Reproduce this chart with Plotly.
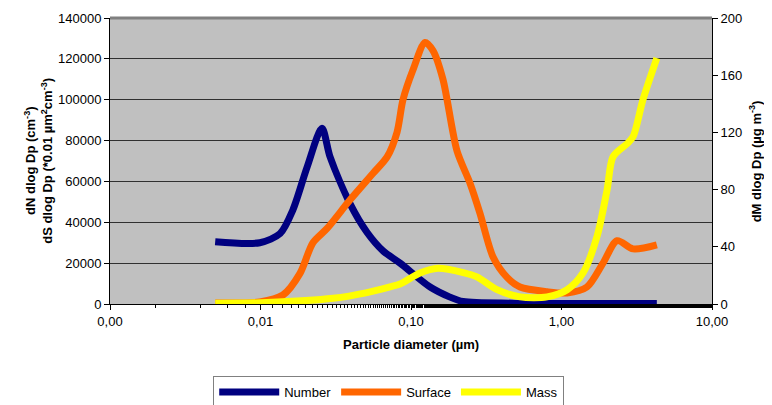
import plotly.graph_objects as go

# Particle diameter (µm) for each series
num_d = [0.005, 0.0099, 0.0135, 0.0164, 0.0204, 0.0256, 0.029, 0.0394, 0.0511, 0.0652, 0.0846, 0.134, 0.18, 0.222, 0.476, 1.0, 4.3]
num_v = [30500, 30000, 34500, 46000, 67000, 86000, 72000, 49000, 35000, 26000, 20000, 8300, 3500, 1200, 400, 250, 200]

surf_d = [0.005, 0.0099, 0.0141, 0.0183, 0.0223, 0.0277, 0.0394, 0.056, 0.0694, 0.0807, 0.0885, 0.103, 0.124, 0.140, 0.163, 0.202, 0.247, 0.287, 0.351, 0.435, 0.530, 0.802, 1.09, 1.476, 1.888, 2.34, 2.99, 4.3]
surf_v = [500, 1000, 4400, 15000, 30000, 37000, 51000, 64000, 72000, 84000, 100000, 114500, 128000, 124000, 110000, 75000, 59000, 44500, 23000, 13000, 8300, 6000, 5400, 8300, 20000, 31000, 27000, 29000]

mass_d = [0.005, 0.011, 0.0304, 0.0511, 0.0725, 0.0846, 0.1148, 0.151, 0.222, 0.274, 0.373, 0.530, 0.802, 1.09, 1.39, 1.72, 2.01, 2.20, 2.72, 2.99, 3.48, 4.3]
mass_v = [0.5, 1, 4, 8, 12, 14, 21.7, 25, 22, 19, 10, 5, 5, 10, 21.7, 47, 80, 103, 112, 117, 143, 172]

x_tickvals = [0.001, 0.01, 0.1, 1, 10]
x_ticktext = ["0,00", "0,01", "0,10", "1,00", "10,00"]

FONT = "Liberation Sans, Arial, sans-serif"

fig = go.Figure()
fig.add_trace(go.Scatter(x=num_d, y=num_v, name="Number", mode="lines",
                         line=dict(color="#000080", width=7, shape="spline", smoothing=0.8)))
fig.add_trace(go.Scatter(x=surf_d, y=surf_v, name="Surface", mode="lines",
                         line=dict(color="#FF6600", width=7, shape="spline", smoothing=0.8)))
fig.add_trace(go.Scatter(x=mass_d, y=mass_v, name="Mass", mode="lines", yaxis="y2",
                         line=dict(color="#FFFF00", width=7, shape="spline", smoothing=0.8)))

fig.update_layout(
    width=772, height=405,
    margin=dict(l=102, r=68, t=10, b=109, autoexpand=False),
    paper_bgcolor="white", plot_bgcolor="#C0C0C0",
    font=dict(family=FONT, size=13, color="black"),
    xaxis=dict(type="log", range=[-3, 1], tickvals=x_tickvals, ticktext=x_ticktext, automargin=False,
               showgrid=False, zeroline=False, showline=True, linecolor="black", linewidth=1,
               ticks="outside", ticklen=5, tickcolor="black",
               minor=dict(ticks="outside", ticklen=3, tickcolor="black", showgrid=False)),
    yaxis=dict(range=[0, 140000], dtick=20000, tickformat="d", automargin=False,
               showgrid=True, gridcolor="#303030", gridwidth=1, zeroline=False,
               showline=True, linecolor="black", linewidth=1, ticks="outside", ticklen=5, tickcolor="black"),
    yaxis2=dict(range=[0, 200], dtick=40, overlaying="y", side="right", automargin=False,
                showgrid=False, zeroline=False, showline=True, linecolor="black", linewidth=1,
                ticks="outside", ticklen=5, tickcolor="black"),
    legend=dict(orientation="h", x=0.463, xanchor="center", y=-0.252, yanchor="top",
                bordercolor="#808080", borderwidth=1, bgcolor="white",
                font=dict(size=13), itemwidth=60, tracegroupgap=0),
    showlegend=True,
)

# axis titles
fig.add_annotation(text="<b>Particle diameter (µm)</b>", xref="paper", yref="paper",
                   x=0.5, y=-0.143, xanchor="center", yanchor="middle", showarrow=False,
                   font=dict(size=13))
fig.add_annotation(text="<b>dN dlog Dp (cm<sup>-3</sup>)</b>", xref="paper", yref="paper",
                   x=-0.133, y=0.5, xanchor="center", yanchor="middle", textangle=-90, showarrow=False,
                   font=dict(size=13))
fig.add_annotation(text="<b>dS dlog Dp (*0.01 µm<sup>2</sup>cm<sup>-3</sup>)</b>", xref="paper", yref="paper",
                   x=-0.105, y=0.5, xanchor="center", yanchor="middle", textangle=-90, showarrow=False,
                   font=dict(size=13))
fig.add_annotation(text="<b>dM dlog Dp (µg m<sup>-3</sup>)</b>", xref="paper", yref="paper",
                   x=1.072, y=0.5, xanchor="center", yanchor="middle", textangle=-90, showarrow=False,
                   font=dict(size=13))

fig.add_shape(type="line", xref="paper", yref="paper", x0=0, x1=1, y0=1, y1=1,
              line=dict(color="#808080", width=3))

fig.write_html("out.html")
